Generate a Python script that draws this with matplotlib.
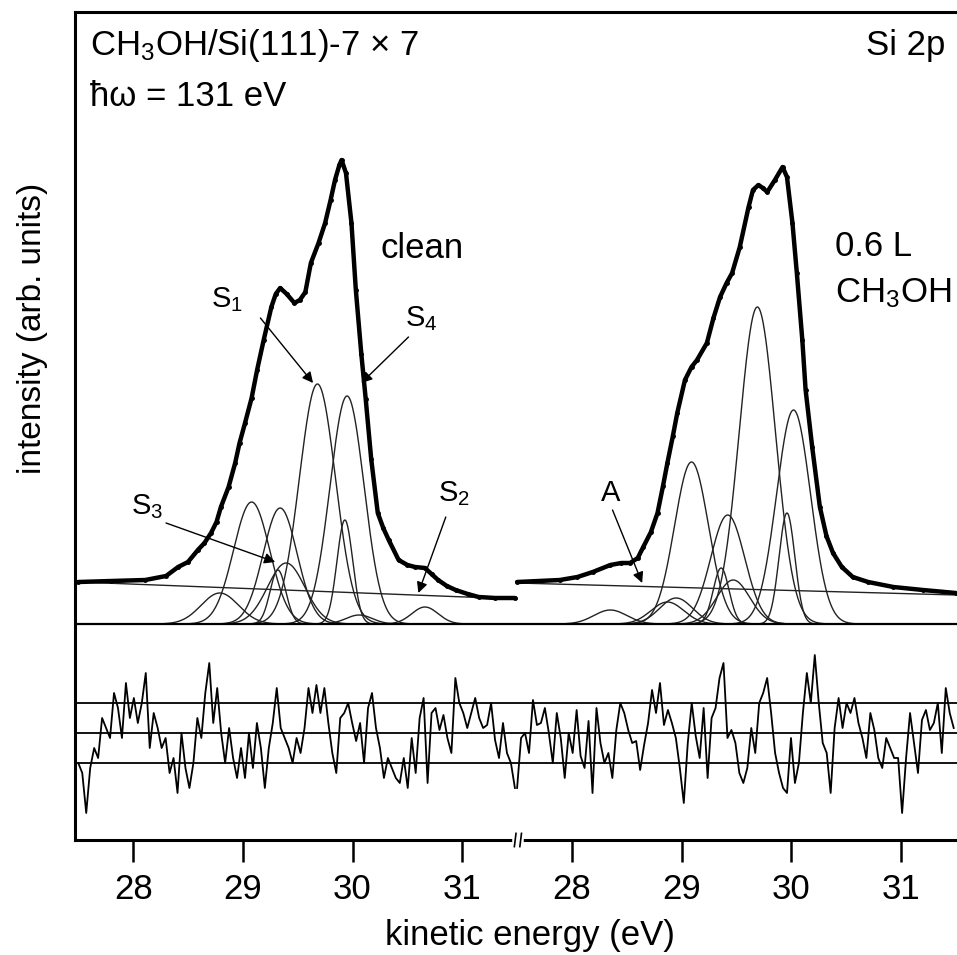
import numpy as np
import matplotlib
matplotlib.use('Agg')
import matplotlib.pyplot as plt

plt.rcParams['font.family'] = ['Liberation Sans', 'DejaVu Sans']
plt.rcParams['mathtext.default'] = 'regular'

W, H = 957, 955
OFFSET = 4.0   # the 0.6 L spectrum sits 4 eV to the right on the shared (broken) axis

# ---------------- clean surface (left part) ----------------
clean_E = [27.50, 27.80, 28.11, 28.30, 28.41, 28.50, 28.59, 28.65, 28.71, 28.76, 28.80,
           28.87, 28.93, 28.97, 29.02, 29.08, 29.13, 29.19, 29.26, 29.30, 29.34, 29.40,
           29.47, 29.52, 29.57, 29.62, 29.69, 29.75, 29.80, 29.84, 29.88, 29.90, 29.94,
           29.99, 30.03, 30.08, 30.12, 30.17, 30.23, 30.28, 30.33, 30.42, 30.50, 30.57,
           30.66, 30.72, 30.78, 30.86, 30.94, 31.05, 31.15, 31.30, 31.48]
clean_I = [42, 43, 44, 48, 57, 62, 74, 81, 91, 102, 117,
           137, 161, 181, 201, 226, 254, 284, 317, 330, 336, 330,
           321, 324, 332, 361, 381, 401, 424, 444, 459, 464, 451,
           401, 334, 270, 225, 165, 111, 96, 84, 64, 59, 57,
           56, 50, 44, 38, 34, 30, 27, 26, 26]
clean_bg_E = [27.5, 31.5]
clean_bg_I = [42, 25]
# fitted components (position eV, amplitude, width eV)
clean_pos = [29.68, 29.08, 29.95, 29.34, 29.93, 29.32, 29.395, 28.79, 30.66, 30.06]
clean_amp = [240, 122, 228, 116, 104, 54, 61, 31, 17, 9]
clean_wid = [0.165, 0.165, 0.155, 0.155, 0.072, 0.072, 0.17, 0.17, 0.12, 0.12]
clean_res = [-30, -40, -80, -35, -15, -25, 15, 5, -5, 40, 25, -5, 50, 15, 35, 10, 30, 60,
             -15, 20, 5, -15, -5, -40, -25, -60, 0, -35, -55, -30, 15, -5, 40, 70, 10, 45,
             0, -30, 5, -25, -45, -15, -45, 0, -35, 10, -15, -55, -15, 10, 45, 5, -5, -15,
             -30, -5, -20,
             5, 45, 20, 48, 20, 45, 10, -20, -40, 15, 20, 30, 10, -8, 10, -30, 25, 40, 5,
             -15, -45, -25, -35, -45, -50, -25, -55, -5, -40, 15, 35, -50, 20, 25, 3, 18,
             -5, -20, 55, 30, 20, 5, 20, 35, 15, 5, 8, 30, -7, -25, 10, -20, -30, -55]

# ---------------- 0.6 L CH3OH (right part) ----------------
meoh_E = [27.50, 27.89, 28.05, 28.19, 28.35, 28.45, 28.53, 28.60, 28.65, 28.72, 28.78,
          28.83, 28.87, 28.92, 28.96, 29.03, 29.09, 29.14, 29.23, 29.29, 29.35, 29.41,
          29.46, 29.53, 29.61, 29.65, 29.70, 29.74, 29.78, 29.85, 29.92, 29.96, 30.01,
          30.05, 30.10, 30.13, 30.19, 30.26, 30.32, 30.38, 30.46, 30.56, 30.70, 30.93,
          31.20, 31.50]
meoh_I = [42, 44, 47, 52, 59, 61, 61, 66, 77, 92, 111,
          138, 161, 188, 211, 244, 257, 264, 281, 306, 327, 341,
          351, 377, 417, 434, 439, 436, 432, 444, 457, 447, 401,
          351, 284, 234, 177, 117, 88, 71, 57, 47, 42, 37,
          34, 31]
meoh_bg_E = [27.5, 31.5]
meoh_bg_I = [41, 29]
meoh_pos = [29.69, 29.09, 30.02, 29.42, 29.96, 29.36, 29.47, 28.87, 28.95, 28.35]
meoh_amp = [317, 162, 214, 109, 111, 56, 44, 22, 26, 14]
meoh_wid = [0.165, 0.155, 0.155, 0.155, 0.072, 0.072, 0.15, 0.15, 0.15, 0.15]
meoh_res = [-55, -5, 0, -20, 33, 8, 10, 25, 0, -30, 20, -5, -45, 0, -20, 23, -23, -35,
            12, -60, 25, -10, -30, -20, -45, 3, 30, 20, 3, -10, -8, -37, -12, 10, 43, 20,
            50, 8, 23, 10, -5, -35, -70, -10, 30, -3, -25, 25, -45, 15, 25, 55, 70, -5,
            3, -10,
            -40, -50, -35, 5, -20, 30, 40, 55, 20, -20, -40, -55, -60, -5, -50, -30, 20,
            60, 30, 78, 30, -10, -20, -60, 5, 35, 5, 30, 20, 35, 10, -5, -25, 20, 3, -25,
            -35, -5, -15, -25, -25, -80, -25, 20, -10, -40, 13, 23, 3, 10, 30, -20, 45,
            20, 5]

tick_pos = [28, 29, 30, 31, 32, 33, 34, 35]
tick_labels = ['28', '29', '30', '31', '28', '29', '30', '31']

RES_CENTER = -109
RES_BAND = 30

# ---------------- figure ----------------
fig = plt.figure(figsize=(W / 100, H / 100), dpi=100)
ax = fig.add_axes([75 / W, 115 / H, 882 / W, 827.5 / H])
ax.set_xlim(27.47, 35.51)
ax.set_ylim(-216, 611.5)


def draw_part(E, I, bgE, bgI, pos, amp, wid, res, off):
    grid = np.linspace(27.5, 31.5, 900)
    for p, a, w in zip(pos, amp, wid):
        comp = a * np.exp(-0.5 * ((grid - p) / w) ** 2)
        ax.plot(grid + off, comp, color='#222222', lw=1.0)
    ax.plot(np.array(bgE) + off, bgI, color='#222222', lw=1.0)
    ax.plot(np.array(E) + off, I, color='black', lw=3.2, solid_joinstyle='round',
            solid_capstyle='round')
    ax.plot(np.array(E) + off, I, color='black', lw=0, marker='.', ms=5)
    rx = np.linspace(27.5, 31.48, len(res)) + off
    ax.plot(rx, RES_CENTER + np.array(res), color='black', lw=1.3)


draw_part(clean_E, clean_I, clean_bg_E, clean_bg_I, clean_pos, clean_amp, clean_wid,
          clean_res, 0.0)
draw_part(meoh_E, meoh_I, meoh_bg_E, meoh_bg_I, meoh_pos, meoh_amp, meoh_wid,
          meoh_res, OFFSET)

ax.axhline(0, color='black', lw=1.6)
for yy in (RES_CENTER + RES_BAND, RES_CENTER, RES_CENTER - RES_BAND):
    ax.axhline(yy, color='black', lw=1.3)

# spines / ticks
for s in ('left', 'top', 'bottom'):
    ax.spines[s].set_linewidth(2.2)
ax.spines['right'].set_visible(False)
ax.set_yticks([])
ax.set_xticks(tick_pos)
ax.set_xticklabels(tick_labels)
ax.tick_params(axis='x', direction='out', length=16, width=1.8, labelsize=25, pad=8)

# axis break mark on the bottom spine
tr = ax.get_xaxis_transform()
ax.plot([31.48, 31.54], [0, 0], transform=tr, color='white', lw=4, clip_on=False, zorder=5)
ax.plot([31.475, 31.49], [-0.008, 0.008], transform=tr, color='black', lw=1.2,
        clip_on=False, zorder=6)
ax.plot([31.525, 31.54], [-0.008, 0.008], transform=tr, color='black', lw=1.2,
        clip_on=False, zorder=6)


def fx(px):
    return px / W


def fy(py):
    return 1 - py / H


fs = 25
fig.text(fx(90), fy(45), 'CH$_3$OH/Si(111)-7 × 7', fontsize=fs, ha='left', va='center')
fig.text(fx(90), fy(96), 'ħω = 131 eV', fontsize=fs, ha='left', va='center')
fig.text(fx(945), fy(46), 'Si 2p', fontsize=fs, ha='right', va='center')
fig.text(fx(381), fy(248), 'clean', fontsize=fs, ha='left', va='center')
fig.text(fx(835), fy(247), '0.6 L', fontsize=fs, ha='left', va='center')
fig.text(fx(835), fy(293), 'CH$_3$OH', fontsize=fs, ha='left', va='center')
fig.text(fx(33), fy(328), 'intensity (arb. units)', fontsize=24, rotation=90,
         ha='center', va='center')
fig.text(fx(530), fy(935), 'kinetic energy (eV)', fontsize=fs, ha='center', va='center')

arrow = dict(arrowstyle='-|>', color='black', lw=1.0, mutation_scale=16, shrinkA=0, shrinkB=0)
labels = [
    ('S$_1$', (28.71, 324), (29.16, 306), (29.64, 241)),
    ('S$_4$', (30.48, 305), (30.51, 287), (30.08, 241)),
    ('S$_3$', (27.98, 117), (28.30, 101), (29.295, 62)),
    ('S$_2$', (30.78, 130), (30.85, 107), (30.60, 31)),
    ('A', (32.26, 131), (32.37, 114), (32.64, 41)),
]
for txt, tpos, a0, a1 in labels:
    ax.text(tpos[0], tpos[1], txt, fontsize=21, ha='left', va='center')
    ax.annotate('', xy=a1, xytext=a0, arrowprops=arrow)

fig.savefig('out.png', dpi=100)
